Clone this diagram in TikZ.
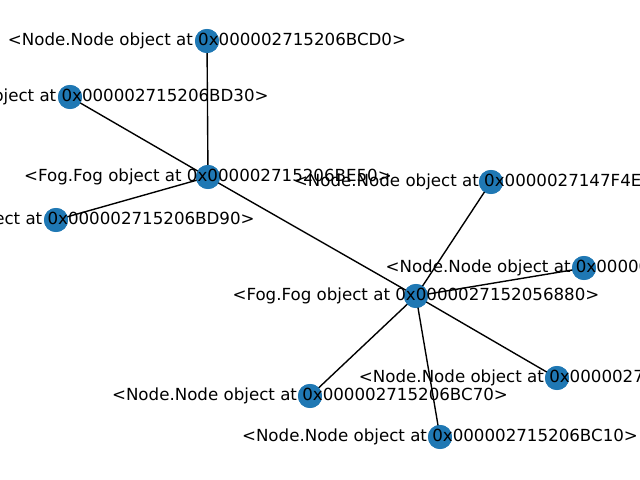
\documentclass[tikz,border=0pt]{standalone}
\usepackage{fontspec}
\setmainfont{DejaVu Sans}
\definecolor{nodeblue}{HTML}{1F78B4}
\begin{document}
\begin{tikzpicture}[x=0.72pt,y=-0.72pt,
  dot/.style={circle,fill=nodeblue,draw=none,minimum size=17.32pt,inner sep=0pt},
  lbl/.style={font=\fontsize{12pt}{14pt}\selectfont,inner sep=0pt,anchor=center},
  edge/.style={draw=black,line width=1pt}]
\useasboundingbox (0,0) rectangle (640,480);
\clip (0,0) rectangle (640,480);
% positions
\coordinate (pA) at (207,41);
\coordinate (pB) at (70,97);
\coordinate (pF1) at (208,177);
\coordinate (pC) at (56,220);
\coordinate (pD) at (491,182);
\coordinate (pE) at (584,268);
\coordinate (pF2) at (416,296);
\coordinate (pG) at (557,378);
\coordinate (pH) at (310,396);
\coordinate (pI) at (440,437);
% nodes
\foreach \n in {A,B,F1,C,D,E,F2,G,H,I}{\node[dot] (\n) at (p\n) {};}
% edges
\begin{scope}[on background layer/.try]
\end{scope}
\draw[edge] (F1.center) -- (A.center);
\draw[edge] (F1.center) -- (B.center);
\draw[edge] (F1.center) -- (C.center);
\draw[edge] (F1.center) -- (F2.center);
\draw[edge] (F2.center) -- (D.center);
\draw[edge] (F2.center) -- (E.center);
\draw[edge] (F2.center) -- (G.center);
\draw[edge] (F2.center) -- (H.center);
\draw[edge] (F2.center) -- (I.center);
% redraw nodes over edges
\foreach \n in {A,B,F1,C,D,E,F2,G,H,I}{\node[dot] at (p\n) {};}
% labels
\node[lbl] (tA) at (pA) {<Node.Node object at 0x000002715206BCD0>};
\node[lbl] (tB) at (pB) {<Node.Node object at 0x000002715206BD30>};
\node[lbl] (tF1) at (pF1) {<Fog.Fog object at 0x000002715206BE50>};
\node[lbl] (tC) at (pC) {<Node.Node object at 0x000002715206BD90>};
\node[lbl] (tD) at (pD) {<Node.Node object at 0x0000027147F4EB80>};
\node[lbl] (tE) at (pE) {<Node.Node object at 0x000002715206BBB0>};
\node[lbl] (tF2) at (pF2) {<Fog.Fog object at 0x0000027152056880>};
\node[lbl] (tG) at (pG) {<Node.Node object at 0x000002715206BB50>};
\node[lbl] (tH) at (pH) {<Node.Node object at 0x000002715206BC70>};
\node[lbl] (tI) at (pI) {<Node.Node object at 0x000002715206BC10>};
\end{tikzpicture}
\end{document}
